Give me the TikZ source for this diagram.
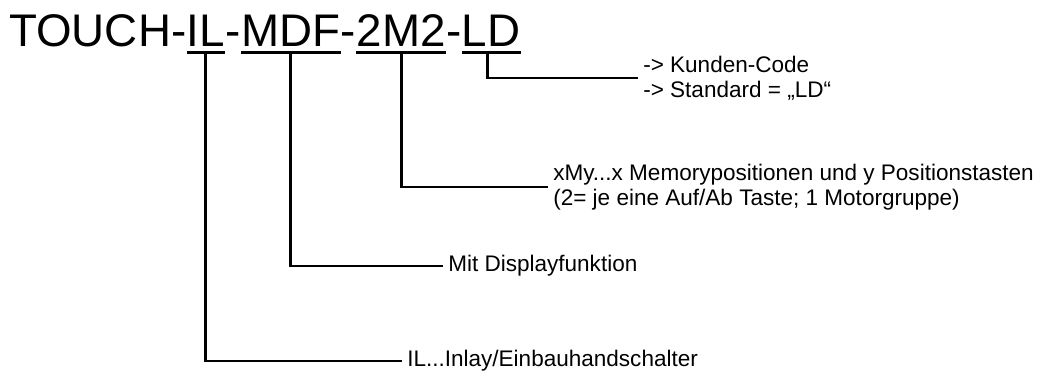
\documentclass[tikz,border=0pt]{standalone}
\usepackage{fontspec}
\setmainfont{Liberation Sans}
\begin{document}
\begin{tikzpicture}[
  x=0.75pt, y=-0.75pt,
  part/.style={inner sep=0pt, text depth=3.75pt, anchor=base west,
               font=\fontsize{34.3}{40}\selectfont},
  note/.style={anchor=west, align=left, inner xsep=3.75pt, inner ysep=0pt,
               font=\fontsize{16.9}{19}\selectfont},
  uline/.style={line width=2pt},
  lead/.style={line width=2.2pt}
]
\useasboundingbox (0,0) rectangle (1041,374);

% Typenschluessel
\node[part] (touch) at (9,47)           {TOUCH-};
\node[part] (il)    at (touch.base east) {IL};
\node[part] (d1)    at (il.base east)    {-};
\node[part] (mdf)   at (d1.base east)    {MDF};
\node[part] (d2)    at (mdf.base east)   {-};
\node[part] (mtm)   at (d2.base east)    {2M2};
\node[part] (d3)    at (mtm.base east)   {-};
\node[part] (ld)    at (d3.base east)    {LD};

\foreach \p in {il,mdf,mtm,ld}
  \draw[uline] (\p.south west) -- (\p.south east);

% Erklaerungen
\node[note] (ldnote)  at (638,78)  {-> Kunden-Code\\-> Standard = „LD“};
\node[note] (mtmnote) at (548,187) {xMy...x Memorypositionen und y Positionstasten\\(2= je eine Auf/Ab Taste; 1 Motorgruppe)};
\node[note] (mdfnote) at (443,266) {Mit Displayfunktion};
\node[note] (ilnote)  at (402,361) {IL...Inlay/Einbauhandschalter};

\draw[lead] ([xshift=-3pt]ld.south) |- (ldnote.west);
\draw[lead] (mtm.south) |- (mtmnote.west);
\draw[lead] (mdf.south) |- (mdfnote.west);
\draw[lead] (il.south)  |- (ilnote.west);
\end{tikzpicture}
\end{document}
